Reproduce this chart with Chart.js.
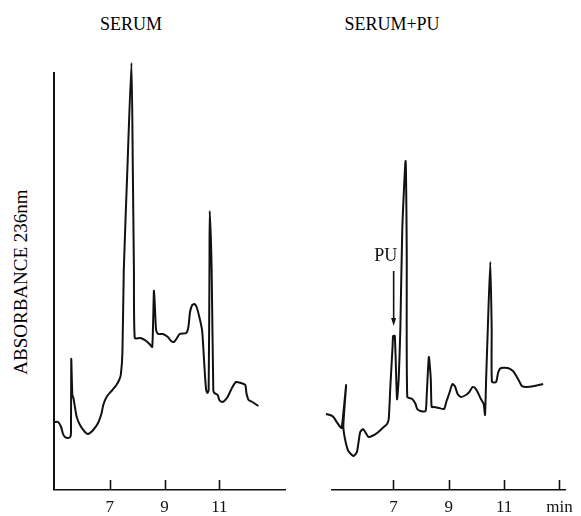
<!DOCTYPE html>
<html>
<head>
<meta charset="utf-8">
<script src="https://cdn.jsdelivr.net/npm/chart.js@4/dist/chart.umd.min.js"></script>
<style>
  html, body { margin: 0; padding: 0; background: #fff; overflow: hidden; }
  #wrap { position: relative; width: 581px; height: 516px; font-family: "Liberation Serif", "DejaVu Serif", serif; color: #000; }
  canvas { position: absolute; top: 0; }
  .title { position: absolute; top: 14px; font-size: 18px; transform: translateX(-50%); white-space: nowrap; }
  #ylab { position: absolute; left: 21px; top: 282px; font-size: 19px; white-space: nowrap;
          transform: translate(-50%, -50%) rotate(-90deg); }
</style>
</head>
<body>
<div id="wrap">
  <div class="title" style="left:131px">SERUM</div>
  <div class="title" style="left:392px">SERUM+PU</div>
  <div id="ylab">ABSORBANCE 236nm</div>
  <canvas id="left" width="300" height="516" style="left:0"></canvas>
  <canvas id="right" width="281" height="516" style="left:300px"></canvas>
</div>
<script>
  // retention time (min) and relative absorbance
  const SERUM_TIME = [4.96, 5.11, 5.22, 5.29, 5.36, 5.47, 5.55, 5.58, 5.59, 5.63, 5.67, 5.73, 5.79, 5.91, 6.09,
    6.21, 6.39, 6.57, 6.70, 6.76, 6.88, 7.06, 7.24, 7.34, 7.40, 7.46, 7.51, 7.64, 7.79, 7.84, 7.88, 7.91, 8.09,
    8.21, 8.33, 8.45, 8.55, 8.61, 8.64, 8.69, 8.76, 8.94, 9.12, 9.24, 9.34, 9.43, 9.55, 9.79, 9.87, 9.93, 10.01,
    10.09, 10.17, 10.27, 10.37, 10.42, 10.48, 10.52, 10.57, 10.61, 10.64, 10.65, 10.72, 10.78, 10.82, 10.94,
    11.00, 11.10, 11.18, 11.30, 11.48, 11.61, 11.79, 11.95, 11.99, 12.07, 12.21, 12.43];
  const SERUM_ABS = [68, 68, 63, 56, 53, 52, 53, 57, 131, 95, 92, 82, 73, 65, 58,
    56, 60, 67, 77, 85, 93, 99, 105, 110, 115, 137, 220, 320, 427, 320, 220, 152, 152,
    151, 149, 146, 143, 199, 187, 160, 156, 156, 153, 149, 148, 151, 156, 157, 163, 178, 185,
    186, 183, 173, 160, 140, 113, 100, 97, 100, 220, 279, 220, 100, 97, 95,
    90, 88, 89, 93, 103, 108, 107, 105, 97, 90, 88, 84];

  const SPIKED_TIME = [4.56, 4.71, 4.83, 4.95, 5.05, 5.13, 5.29, 5.19, 5.25, 5.37, 5.56, 5.68, 5.74, 5.80, 5.90,
    5.98, 6.10, 6.23, 6.41, 6.65, 6.77, 6.83, 6.89, 6.97, 6.99, 7.05, 7.13, 7.19, 7.25, 7.32, 7.44, 7.48, 7.50,
    7.68, 7.80, 7.86, 7.98, 8.16, 8.20, 8.28, 8.35, 8.38, 8.47, 8.65, 8.83, 8.92, 9.01, 9.13, 9.22, 9.32, 9.44,
    9.62, 9.74, 9.86, 9.95, 10.04, 10.16, 10.26, 10.31, 10.35, 10.41, 10.50, 10.55, 10.56, 10.71, 10.79, 10.89,
    11.13, 11.32, 11.44, 11.56, 11.64, 11.80, 12.10, 12.41];
  const SPIKED_ABS = [76, 75, 73, 68, 64, 62, 105, 64, 51, 39, 34, 38, 48, 58, 61,
    58, 53, 54, 57, 63, 66, 71, 104, 144, 154, 154, 91, 111, 161, 261, 329, 241, 93,
    91, 86, 81, 79, 79, 93, 133, 111, 83, 83, 82, 81, 89, 96, 106, 104, 96, 93,
    95, 98, 103, 102, 98, 91, 86, 75, 111, 161, 228, 161, 108, 108, 118, 122,
    122, 119, 114, 108, 104, 103, 104, 106];

  const LEFT_TICKS = [7, 9, 11];
  const RIGHT_TICKS = [7, 9, 11, 13];
  const RIGHT_TICK_LABELS = ["7", "9", "11", "min"];

  const PU_TIME = 6.99;        // arrow position
  const PU_ARROW = [219, 164]; // arrow from / to (absorbance)

  const INK = "#111";
  const FONT = "'Liberation Serif', 'DejaVu Serif', serif";

  const toPoints = (xs, ys) => xs.map((x, i) => ({ x, y: ys[i] }));

  // tick marks pointing up into the plot, plus optional y axis line and PU arrow
  const axisDecor = {
    id: "axisDecor",
    afterDatasetsDraw(chart, args, opts) {
      const { ctx, scales: { x, y } } = chart;
      ctx.save();
      ctx.strokeStyle = INK;
      ctx.fillStyle = INK;
      ctx.lineWidth = 1.6;
      const base = x.top;
      for (const t of opts.ticks) {
        const px = Math.round(x.getPixelForValue(t)) + 0.5;
        ctx.beginPath();
        ctx.moveTo(px, base);
        ctx.lineTo(px, base - 10);
        ctx.stroke();
      }
      if (opts.yLine) {
        ctx.lineWidth = 2;
        ctx.beginPath();
        ctx.moveTo(x.left, y.getPixelForValue(0));
        ctx.lineTo(x.left, y.getPixelForValue(y.max));
        ctx.stroke();
      }
      if (opts.arrow) {
        const ax = x.getPixelForValue(PU_TIME) + 0.5;
        const y1 = y.getPixelForValue(PU_ARROW[0]);
        const y2 = y.getPixelForValue(PU_ARROW[1]);
        ctx.lineWidth = 1.6;
        ctx.beginPath();
        ctx.moveTo(ax, y1);
        ctx.lineTo(ax, y2 - 5);
        ctx.stroke();
        ctx.beginPath();
        ctx.moveTo(ax - 2.5, y2 - 8);
        ctx.lineTo(ax + 2.5, y2 - 8);
        ctx.lineTo(ax, y2);
        ctx.closePath();
        ctx.fill();
        ctx.font = "18px " + FONT;
        ctx.textAlign = "center";
        ctx.textBaseline = "middle";
        ctx.fillText("PU", ax - 8, y1 - 15);
      }
      ctx.restore();
    },
  };

  function makeChart(id, data, xMin, xMax, ticks, labels, padLeft, padRight, decor) {
    return new Chart(document.getElementById(id), {
      type: "scatter",
      data: {
        datasets: [{
          data,
          showLine: true,
          borderColor: INK,
          borderWidth: 2,
          pointRadius: 0,
          tension: 0.2,
          clip: false,
        }],
      },
      options: {
        responsive: false,
        animation: false,
        layout: { padding: { left: padLeft, right: padRight, top: 72, bottom: 0 } },
        plugins: { legend: { display: false }, tooltip: { enabled: false }, axisDecor: decor },
        scales: {
          x: {
            type: "linear",
            min: xMin,
            max: xMax,
            grid: { display: false, drawTicks: false },
            border: { display: true, color: INK, width: 1.6 },
            afterBuildTicks: (s) => { s.ticks = ticks.map((v) => ({ value: v })); },
            afterFit: (s) => { s.height = 26; },
            ticks: {
              color: INK,
              padding: 7,
              maxRotation: 0,
              font: { family: FONT, size: 17 },
              callback: (v) => labels[ticks.indexOf(v)],
            },
          },
          y: { display: false, min: 0, max: 418 },
        },
      },
      plugins: [axisDecor],
    });
  }

  makeChart("left", toPoints(SERUM_TIME, SERUM_ABS), 4.96, 13.4, LEFT_TICKS, LEFT_TICKS.map(String), 54, 15,
    { ticks: LEFT_TICKS, yLine: true, arrow: false });
  makeChart("right", toPoints(SPIKED_TIME, SPIKED_ABS), 4.78, 13.2, RIGHT_TICKS, RIGHT_TICK_LABELS, 32, 16,
    { ticks: RIGHT_TICKS, yLine: false, arrow: true });
</script>
</body>
</html>
